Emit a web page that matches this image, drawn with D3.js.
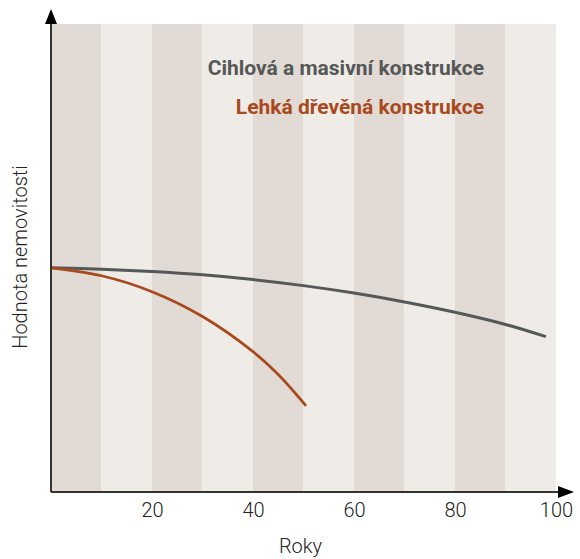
<!DOCTYPE html>
<html>
<head>
<meta charset="utf-8">
<script src="https://cdn.jsdelivr.net/npm/d3@7"></script>
<style>
  body { margin: 0; background: #fff; font-family: Roboto, "Liberation Sans", sans-serif; }
  .tick text { font-size: 20px; fill: #222; font-weight: 300; font-family: Roboto, sans-serif; }
  .axisText { font-size: 20px; fill: #222; font-weight: 300; }
</style>
</head>
<body>
<div id="chart"></div>
<script>
var svgWidth = 580;
var svgHeight = 559;

var margin = { top: 24, right: 24, bottom: 67, left: 51 };
var width = svgWidth - margin.left - margin.right;
var height = svgHeight - margin.top - margin.bottom;

// data (years vs. relative value)
var years = [0, 10, 20, 30, 40, 50, 60, 70, 80, 90, 98];
var brickValues = [47.9, 47.6, 47.1, 46.4, 45.4, 44.1, 42.5, 40.6, 38.4, 35.8, 33.2];
var woodYears = [0, 10, 20, 30, 40, 45, 50.5];
var woodValues = [47.9, 46.2, 42.8, 37.5, 30.0, 25.1, 18.4];
var stripes = [0, 10, 20, 30, 40, 50, 60, 70, 80, 90];
var xTicks = [20, 40, 60, 80, 100];
var seriesNames = ["Cihlová a masivní konstrukce", "Lehká dřevěná konstrukce"];
var seriesColors = ["#555857", "#a84a1e"];

var svg = d3.select("#chart")
  .append("svg")
  .attr("width", svgWidth)
  .attr("height", svgHeight);

var chartGroup = svg.append("g")
  .attr("transform", `translate(${margin.left}, ${margin.top})`);

var xScale = d3.scaleLinear().domain([0, 100]).range([0, width]);
var yScale = d3.scaleLinear().domain([0, 100]).range([height, 0]);

// striped background
chartGroup.selectAll("rect.stripe")
  .data(stripes)
  .enter()
  .append("rect")
  .attr("class", "stripe")
  .attr("x", d => xScale(d))
  .attr("y", 0)
  .attr("width", d => xScale(d + 10) - xScale(d))
  .attr("height", height)
  .attr("fill", (d, i) => i % 2 == 0 ? "#e2dbd5" : "#efebe6");

// lines
var line = d3.line()
  .x(d => xScale(d[0]))
  .y(d => yScale(d[1]))
  .curve(d3.curveCatmullRom);

chartGroup.append("path")
  .datum(years.map((y, i) => [y, brickValues[i]]))
  .attr("d", line)
  .attr("fill", "none")
  .attr("stroke", seriesColors[0])
  .attr("stroke-width", 3);

chartGroup.append("path")
  .datum(woodYears.map((y, i) => [y, woodValues[i]]))
  .attr("d", line)
  .attr("fill", "none")
  .attr("stroke", seriesColors[1])
  .attr("stroke-width", 2.7);

// x axis labels, no tick marks
var bottomAxis = d3.axisBottom(xScale).tickValues(xTicks).tickSize(0);
var xAxis = chartGroup.append("g")
  .attr("transform", `translate(0, ${height})`)
  .call(bottomAxis);
xAxis.select(".domain").remove();
xAxis.selectAll("text").attr("y", 25).attr("dy", 0);

// axis lines with arrows
chartGroup.append("line")
  .attr("x1", 0).attr("y1", height)
  .attr("x2", 0).attr("y2", -2)
  .attr("stroke", "#333").attr("stroke-width", 2);
chartGroup.append("line")
  .attr("x1", 0).attr("y1", height)
  .attr("x2", width + 8).attr("y2", height)
  .attr("stroke", "#333").attr("stroke-width", 2);
chartGroup.append("path")
  .attr("d", `M-6,0 L6,0 L0,-15 Z`)
  .attr("fill", "#000");
chartGroup.append("path")
  .attr("d", `M${width + 2},${height - 6} L${width + 2},${height + 6} L${width + 18},${height} Z`)
  .attr("fill", "#000");

// legend texts
chartGroup.selectAll("text.legend")
  .data(seriesNames)
  .enter()
  .append("text")
  .attr("class", "legend")
  .attr("x", 433)
  .attr("y", (d, i) => 51 + i * 39)
  .attr("text-anchor", "end")
  .style("font-size", "21px")
  .style("font-weight", "bold")
  .attr("fill", (d, i) => seriesColors[i])
  .text(d => d);

// axis titles
chartGroup.append("text")
  .attr("transform", "rotate(-90)")
  .attr("y", -24)
  .attr("x", -233)
  .attr("text-anchor", "middle")
  .attr("class", "axisText")
  .text("Hodnota nemovitosti");

chartGroup.append("text")
  .attr("transform", `translate(${width / 2 - 3}, ${height + 61})`)
  .attr("text-anchor", "middle")
  .attr("class", "axisText")
  .text("Roky");
</script>
</body>
</html>
